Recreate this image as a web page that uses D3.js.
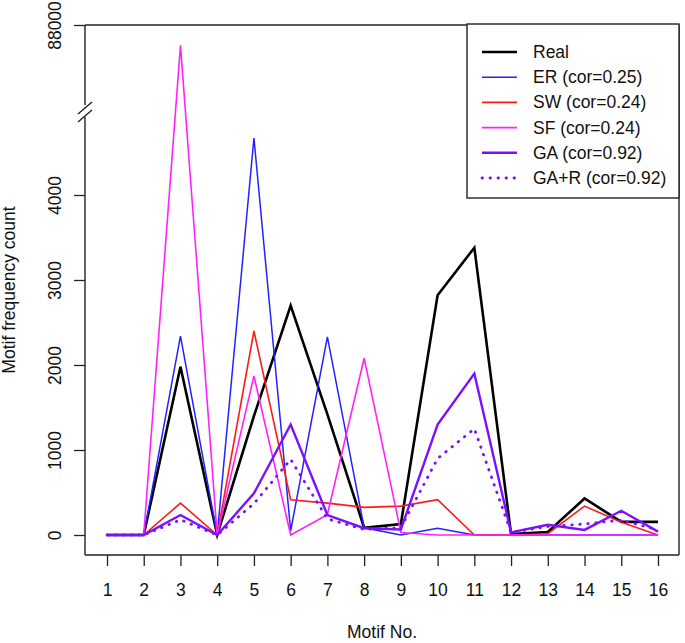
<!DOCTYPE html>
<html>
<head>
<meta charset="utf-8">
<script src="https://cdn.jsdelivr.net/npm/d3@7/dist/d3.min.js"></script>
<style>
  html, body { margin: 0; padding: 0; background: #fff; }
  svg { display: block; font-family: "Liberation Sans", Arial, sans-serif; }
</style>
</head>
<body>
<svg id="chart" width="685" height="643"></svg>
<script>
// ---- data ----
const motifs = [1,2,3,4,5,6,7,8,9,10,11,12,13,14,15,16];
const realVals = [0,0,1980,0,1400,2700,1420,85,130,2820,3380,10,35,430,155,155];
const erVals   = [0,0,2340,0,4670,50,2330,85,0,80,0,0,0,0,0,0];
const swVals   = [0,0,375,0,2400,415,375,325,340,415,0,0,15,340,150,0];
const sfVals   = [0,0,87760,0,1870,0,240,2080,30,0,0,0,0,0,0,0];
const gaVals   = [0,0,235,0,490,1300,235,80,65,1300,1900,30,120,60,285,40];
const garVals  = [0,0,180,0,370,890,190,65,85,900,1250,30,100,130,175,60];
const seriesNames = ["Real","ER (cor=0.25)","SW (cor=0.24)","SF (cor=0.24)","GA (cor=0.92)","GA+R (cor=0.92)"];
const yTickVals = [0,1000,2000,3000,4000,88000];
const xTitle = "Motif No.";
const yTitle = "Motif frequency count";

const styles = [
  {color:"#000000", width:2.6, dash:null},
  {color:"#2222ff", width:1.5, dash:null},
  {color:"#ff1a1a", width:1.6, dash:null},
  {color:"#ff22ff", width:1.6, dash:null},
  {color:"#7a10ff", width:2.4, dash:null},
  {color:"#7a10ff", width:2.8, dash:"0.5,7.5"}
];
const allVals = [realVals, erVals, swVals, sfVals, gaVals, garVals];

const svg = d3.select("#chart");
const L = 85, R = 679, T = 25, B = 555;

const x = d3.scaleLinear().domain([1,16]).range([107,658]);
// broken axis: gap between 5000 and 87000
const y = d3.scaleLinear().domain([0,5000,87000,88000]).range([535,110,110,25]);

// box (left side drawn with a break)
const boxG = svg.append("g").attr("stroke","#222").attr("stroke-width",1.4).attr("fill","none");
boxG.append("line").attr("x1",L).attr("x2",R).attr("y1",T).attr("y2",T);
boxG.append("line").attr("x1",L).attr("x2",R).attr("y1",B).attr("y2",B);
boxG.append("line").attr("x1",R).attr("x2",R).attr("y1",T).attr("y2",B);
boxG.append("line").attr("x1",L).attr("x2",L).attr("y1",T).attr("y2",105);
boxG.append("line").attr("x1",L).attr("x2",L).attr("y1",117).attr("y2",B);
// break slashes
boxG.append("line").attr("x1",78).attr("y1",114).attr("x2",92).attr("y2",102);
boxG.append("line").attr("x1",78).attr("y1",122).attr("x2",92).attr("y2",110);

// y axis
const yAxis = d3.axisLeft(y).tickValues(yTickVals).tickSize(11).tickFormat(d3.format("d"));
const yg = svg.append("g").attr("transform",`translate(${L},0)`).call(yAxis);
yg.select(".domain").remove();
yg.selectAll(".tick line").attr("stroke","#222").attr("stroke-width",1.3);
yg.selectAll(".tick text").remove();
yg.selectAll(".tick").append("text")
  .attr("transform","translate(-24,0) rotate(-90)")
  .attr("text-anchor","middle")
  .attr("fill","#111")
  .attr("font-size",17.5)
  .text(d => d);

// x axis
const xAxis = d3.axisBottom(x).tickValues(motifs).tickSize(11).tickPadding(18).tickFormat(d3.format("d"));
const xg = svg.append("g").attr("transform",`translate(0,${B})`).call(xAxis);
xg.select(".domain").remove();
xg.selectAll(".tick line").attr("stroke","#222").attr("stroke-width",1.3);
xg.selectAll(".tick text").attr("font-size",17.5).attr("fill","#111")
  .attr("font-family","Liberation Sans, Arial, sans-serif");

// titles
svg.append("text").attr("x",(L+R)/2).attr("y",638).attr("text-anchor","middle")
  .attr("font-size",17.5).attr("fill","#111").text(xTitle);
svg.append("text").attr("transform",`translate(15,${(T+B)/2}) rotate(-90)`)
  .attr("text-anchor","middle").attr("font-size",17.5).attr("fill","#111").text(yTitle);

// lines
const line = d3.line().x((d,i)=>x(motifs[i])).y(d=>y(d));
allVals.forEach((vals, k) => {
  const s = styles[k];
  const p = svg.append("path").datum(vals)
    .attr("d", line)
    .attr("fill","none")
    .attr("stroke", s.color)
    .attr("stroke-width", s.width)
    .attr("stroke-linejoin","miter");
  if (s.dash) p.attr("stroke-dasharray", s.dash).attr("stroke-linecap","round");
});

// legend
const lg = svg.append("g");
lg.append("rect").attr("x",467).attr("y",24).attr("width",212).attr("height",174)
  .attr("fill","#fff").attr("stroke","#222").attr("stroke-width",1.4);
seriesNames.forEach((name,k) => {
  const s = styles[k];
  const yy = 52 + k*25.2;
  const l = lg.append("line").attr("x1",482).attr("x2",517).attr("y1",yy).attr("y2",yy)
    .attr("stroke",s.color).attr("stroke-width",s.width);
  if (s.dash) l.attr("stroke-dasharray",s.dash).attr("stroke-linecap","round");
  lg.append("text").attr("x",533).attr("y",yy+6).attr("font-size",17.5).attr("fill","#111").text(name);
});
</script>
</body>
</html>
